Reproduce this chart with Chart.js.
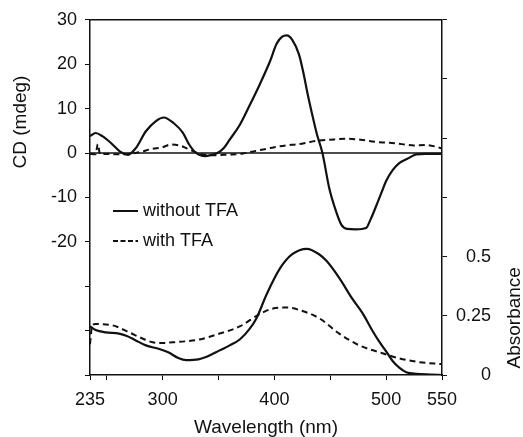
<!DOCTYPE html>
<html>
<head>
<meta charset="utf-8">
<script src="https://cdn.jsdelivr.net/npm/chart.js@4"></script>
<style>
  html, body { margin: 0; padding: 0; background: #fff; }
  #wrap { width: 523px; height: 437px; }
</style>
</head>
<body>
<div id="wrap"><canvas id="cdChart" width="523" height="437"></canvas></div>
<script>
// CD spectra (mdeg)
const cdWithoutNm = [235, 240, 246, 254, 262, 269, 276, 285, 294, 301, 310, 318, 324, 330, 338, 344, 349, 355, 360, 369, 378, 387, 396, 402, 407, 411, 416, 422, 426, 430, 434, 438, 443, 449, 455, 460, 465, 473, 482, 486, 491, 496, 500, 506, 512, 519, 527, 535, 550];
const cdWithout = [3.8, 4.5, 3.8, 2.2, 0.3, -0.4, 1.1, 4.9, 7.2, 8.0, 6.7, 4.6, 1.8, 0.0, -0.7, -0.4, 0.0, 1.2, 3.0, 6.3, 10.8, 15.5, 20.6, 24.6, 26.2, 26.5, 25.5, 22.2, 18, 13, 8.5, 4.3, 0, -7.8, -13, -16.2, -17.1, -17.2, -16.9, -15, -12, -8.8, -6.3, -3.8, -2.2, -1.3, -0.3, -0.2, -0.2];

const cdWithNm = [235, 240, 242, 244, 250, 260, 270, 280, 290, 300, 307, 315, 322, 330, 338, 345, 355, 365, 372, 380, 390, 400, 410, 422, 432, 440, 450, 464, 477, 491, 503, 514, 525, 535, 545, 550];
const cdWith = [-0.2, -0.3, 2.0, -0.3, -0.2, -0.3, -0.2, 0.2, 0.9, 1.3, 1.9, 1.7, 1.0, 0.1, -0.4, -0.5, -0.4, -0.3, -0.1, 0.3, 0.8, 1.3, 1.7, 2.0, 2.5, 2.8, 3.0, 3.2, 3.0, 2.5, 2.3, 2.0, 1.7, 1.8, 1.4, 1.0];

// absorbance spectra
const absWithoutNm = [235, 240, 249, 261, 268, 276, 285, 297, 305, 314, 321, 332, 340, 351, 360, 369, 378, 384, 393, 405, 416, 429, 440, 447, 458, 470, 479, 488, 494, 500, 506, 512, 518, 527, 540, 550];
const absWithout = [0.205, 0.19, 0.18, 0.175, 0.165, 0.146, 0.125, 0.11, 0.096, 0.072, 0.063, 0.066, 0.078, 0.104, 0.125, 0.15, 0.196, 0.24, 0.34, 0.45, 0.51, 0.533, 0.51, 0.48, 0.41, 0.32, 0.26, 0.185, 0.14, 0.1, 0.058, 0.03, 0.012, 0.005, 0.002, 0];

const absWithNm = [235, 237, 240, 255, 270, 282, 291, 300, 309, 320, 333, 351, 369, 387, 398, 411, 422, 440, 458, 476, 494, 512, 530, 550];
const absWith = [0.13, 0.21, 0.215, 0.21, 0.18, 0.154, 0.138, 0.135, 0.138, 0.142, 0.15, 0.175, 0.205, 0.258, 0.28, 0.285, 0.275, 0.24, 0.175, 0.125, 0.096, 0.07, 0.054, 0.046];

// axis ticks
const xTicks = [235, 250, 300, 350, 400, 450, 500, 550];
const xTickLabels = [235, 300, 400, 500, 550];
const legendLabels = ['without TFA', 'with TFA'];

const FONT = "'Liberation Sans', Arial, Helvetica, sans-serif";
const INK = '#111';

function pts(xs, ys) {
    return xs.map((x, i) => ({ x: x, y: ys[i] }));
}

// box, zero line, legend, titles
const decor = {
    id: 'decor',
    beforeDatasetsDraw(chart) {
        const ctx = chart.ctx;
        const area = chart.chartArea;
        const y0 = chart.scales.yCD.getPixelForValue(0);
        ctx.save();
        ctx.strokeStyle = INK;
        ctx.lineWidth = 1.3;
        ctx.beginPath();
        ctx.moveTo(area.left, y0);
        ctx.lineTo(area.right, y0);
        ctx.stroke();
        ctx.restore();
    },
    afterDraw(chart) {
        const ctx = chart.ctx;
        const area = chart.chartArea;
        ctx.save();
        ctx.strokeStyle = INK;
        ctx.lineWidth = 1.5;
        ctx.beginPath();
        ctx.moveTo(area.left, area.top);
        ctx.lineTo(area.right, area.top);
        ctx.stroke();

        // legend
        ctx.font = '18px ' + FONT;
        ctx.fillStyle = INK;
        ctx.textBaseline = 'middle';
        ctx.textAlign = 'left';
        const lx = area.left + 23;
        const rows = [211, 241];
        legendLabels.forEach((lab, i) => {
            ctx.lineWidth = 2;
            ctx.setLineDash(i === 0 ? [] : [5, 2.5]);
            ctx.beginPath();
            ctx.moveTo(lx, rows[i]);
            ctx.lineTo(lx + 25, rows[i]);
            ctx.stroke();
            ctx.fillText(lab, lx + 30, rows[i]);
        });
        ctx.setLineDash([]);

        // axis titles
        ctx.font = '19px ' + FONT;
        ctx.textAlign = 'center';
        ctx.save();
        ctx.translate(21, 122);
        ctx.rotate(-Math.PI / 2);
        ctx.fillText('CD (mdeg)', 0, 0);
        ctx.restore();

        ctx.save();
        ctx.translate(515, chart.scales.yAbs.getPixelForValue(0.25) + 2);
        ctx.rotate(-Math.PI / 2);
        ctx.fillText('Absorbance', 0, 0);
        ctx.restore();

        ctx.fillText('Wavelength (nm)', (area.left + area.right) / 2, 428);
        ctx.restore();
    }
};

const tickFont = { family: FONT, size: 18 };

new Chart(document.getElementById('cdChart').getContext('2d'), {
    type: 'line',
    data: {
        datasets: [
            { label: 'CD without TFA', data: pts(cdWithoutNm, cdWithout), yAxisID: 'yCD', borderColor: INK, borderWidth: 2.2 },
            { label: 'CD with TFA', data: pts(cdWithNm, cdWith), yAxisID: 'yCD', borderColor: INK, borderWidth: 2, borderDash: [6, 4] },
            { label: 'Abs without TFA', data: pts(absWithoutNm, absWithout), yAxisID: 'yAbs', borderColor: INK, borderWidth: 2.2 },
            { label: 'Abs with TFA', data: pts(absWithNm, absWith), yAxisID: 'yAbs', borderColor: INK, borderWidth: 2, borderDash: [6, 4] }
        ]
    },
    options: {
        responsive: false,
        animation: false,
        devicePixelRatio: 1,
        layout: { padding: { top: 18, left: 0, right: 32, bottom: 0 } },
        elements: {
            point: { radius: 0 },
            line: { cubicInterpolationMode: 'monotone', fill: false }
        },
        plugins: {
            legend: { display: false },
            tooltip: { enabled: false }
        },
        scales: {
            x: {
                type: 'linear',
                min: 235,
                max: 550,
                afterBuildTicks: (scale) => { scale.ticks = xTicks.map(v => ({ value: v })); },
                afterFit: (scale) => { scale.height = 62; },
                ticks: {
                    autoSkip: false,
                    maxRotation: 0,
                    padding: 9,
                    color: INK,
                    font: tickFont,
                    callback: (v) => xTickLabels.includes(v) ? String(v) : ''
                },
                grid: { drawOnChartArea: false, drawTicks: true, tickLength: 5, color: INK, lineWidth: 1 },
                border: { display: true, color: INK, width: 1.5 }
            },
            yCD: {
                type: 'linear',
                position: 'left',
                min: -50,
                max: 30,
                afterFit: (scale) => { scale.width = 90; },
                ticks: {
                    stepSize: 10,
                    padding: 8,
                    color: INK,
                    font: tickFont,
                    callback: (v) => v >= -20 ? String(v) : ''
                },
                grid: { drawOnChartArea: false, drawTicks: true, tickLength: 5, color: INK, lineWidth: 1 },
                border: { display: true, color: INK, width: 1.5 }
            },
            yAbs: {
                type: 'linear',
                position: 'right',
                min: 0,
                max: 1.5,
                afterFit: (scale) => { scale.width = 49; },
                ticks: {
                    stepSize: 0.25,
                    padding: 9,
                    crossAlign: 'far',
                    color: INK,
                    font: tickFont,
                    callback: (v) => v <= 0.5 ? String(v) : ''
                },
                grid: { drawOnChartArea: false, drawTicks: true, tickLength: 5, color: INK, lineWidth: 1 },
                border: { display: true, color: INK, width: 1.5 }
            }
        }
    },
    plugins: [decor]
});
</script>
</body>
</html>
